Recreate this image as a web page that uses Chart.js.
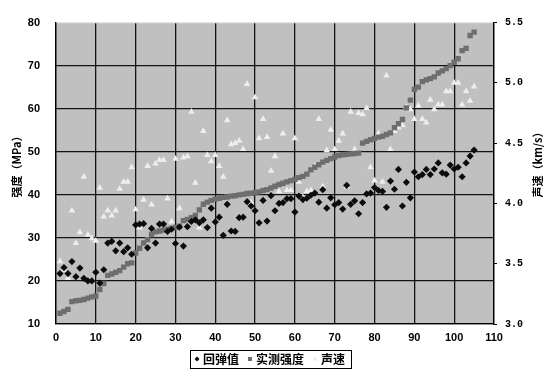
<!DOCTYPE html>
<html>
<head>
<meta charset="utf-8">
<script src="https://cdn.jsdelivr.net/npm/chart.js@4/dist/chart.umd.min.js"></script>
<style>
  html, body { margin: 0; padding: 0; background: #fff; }
  #wrap { width: 547px; height: 374px; position: relative; }
</style>
</head>
<body>
<div id="wrap"><canvas id="chart"></canvas></div>
<script>
// tick labels
const xTicks = [0, 10, 20, 30, 40, 50, 60, 70, 80, 90, 100, 110];
const strengthTicks = [10, 20, 30, 40, 50, 60, 70, 80];
const velocityTicks = [3.0, 3.5, 4.0, 4.5, 5.0, 5.5];

const seriesNames = ['回弹值', '实测强度', '声速'];

// specimen 1..105
const rebound = [
  21.7, 23.1, 21.7, 24.5, 21.0, 23.0, 20.6, 20.0, 20.0, 22.0,
  19.5, 22.6, 28.8, 29.2, 27.0, 28.8, 26.8, 27.7, 26.2, 33.0,
  33.2, 33.3, 27.7, 32.2, 28.8, 33.2, 33.2, 31.5, 32.0, 28.7,
  32.5, 28.1, 32.6, 33.8, 34.2, 33.5, 34.2, 32.4, 36.9, 33.7,
  34.8, 30.6, 37.8, 31.6, 31.5, 34.7, 34.8, 38.4, 37.4, 36.3,
  33.5, 38.7, 33.9, 39.8, 36.3, 38.0, 38.2, 39.1, 39.1, 36.0,
  39.7, 38.9, 39.2, 39.9, 40.4, 38.3, 41.2, 36.9, 39.3, 37.7,
  38.2, 36.7, 42.2, 37.8, 38.6, 35.6, 38.2, 40.2, 40.4, 41.7,
  41.0, 40.8, 37.1, 43.2, 41.3, 45.9, 37.4, 42.9, 39.3, 45.3,
  44.2, 44.7, 45.9, 44.7, 46.0, 47.4, 45.1, 44.8, 46.9, 46.0,
  46.4, 44.2, 47.4, 49.0, 50.4
];
const strength = [
  12.5, 12.9, 13.4, 15.2, 15.4, 15.5, 15.7, 16.0, 16.3, 16.5,
  18.0, 19.4, 21.3, 21.6, 22.0, 22.4, 23.2, 24.0, 24.2, 26.5,
  27.6, 28.8, 29.6, 30.8, 31.4, 31.6, 31.8, 32.0, 32.2, 32.4,
  32.7, 34.0, 34.3, 34.7, 35.2, 36.5, 37.8, 38.3, 38.7, 39.0,
  39.2, 39.4, 39.5, 39.7, 39.8, 40.0, 40.1, 40.3, 40.4, 40.5,
  40.7, 41.0, 41.2, 41.6, 42.0, 42.4, 42.7, 43.0, 43.3, 43.6,
  44.0, 44.3, 44.8, 45.8, 46.4, 47.0, 47.6, 48.0, 48.4, 48.8,
  49.1, 49.3, 49.4, 49.5, 49.6, 49.7, 52.0, 52.4, 52.8, 53.1,
  53.4, 53.6, 54.0, 54.4, 55.6, 56.5, 57.5, 60.2, 62.0, 64.5,
  65.0, 66.3, 66.7, 67.0, 67.4, 68.3, 68.8, 69.3, 70.0, 70.8,
  71.6, 73.5, 74.0, 77.0, 77.8
];
const velocity = [
  3.52, 3.45, 3.38, 3.94, 3.67, 3.76, 4.22, 3.74, 3.71, 3.69,
  4.13, 3.89, 3.94, 3.90, 3.94, 4.12, 4.18, 4.18, 4.30, 3.95,
  3.80, 4.03, 4.31, 3.99, 4.33, 4.36, 4.36, 4.04, 3.85, 4.37,
  3.96, 4.38, 4.39, 4.76, 4.17, 3.80, 4.60, 4.40, 4.35, 4.40,
  4.31, 4.22, 4.69, 4.49, 4.50, 4.52, 4.45, 4.99, 4.01, 4.88,
  4.54, 4.70, 4.55, 4.27, 4.39, 4.10, 4.58, 4.11, 4.11, 4.54,
  4.18, 4.05, 4.10, 4.11, 4.31, 4.70, 4.14, 4.44, 4.61, 4.45,
  4.52, 4.58, 4.14, 4.76, 4.45, 4.75, 4.74, 4.79, 4.30, 4.19,
  4.58, 4.18, 5.06, 4.45, 4.60, 4.63, 4.65, 4.80, 4.78, 4.70,
  4.81, 4.70, 4.67, 4.86, 4.78, 4.82, 4.82, 4.93, 4.93, 5.00,
  5.00, 4.82, 4.93, 4.85, 4.97
];

const toPoints = arr => arr.map((v, i) => ({ x: i + 1, y: v }));

const markerColors = ['#0c0c0c', '#6e6e6e', '#eeeeee'];
const markerStyles = ['rectRot', 'rect', 'triangle'];

function drawMarker(ctx, style, x, y, r, color) {
  ctx.fillStyle = color;
  ctx.beginPath();
  if (style === 'rectRot') {
    ctx.moveTo(x, y - r); ctx.lineTo(x + r, y); ctx.lineTo(x, y + r); ctx.lineTo(x - r, y);
  } else if (style === 'rect') {
    ctx.rect(x - r * 0.8, y - r * 0.8, r * 1.6, r * 1.6);
  } else {
    ctx.moveTo(x, y - r); ctx.lineTo(x + r, y + r * 0.7); ctx.lineTo(x - r, y + r * 0.7);
  }
  ctx.closePath();
  ctx.fill();
}

const plotBg = {
  id: 'plotBg',
  beforeDraw(chart) {
    const { ctx, chartArea: a } = chart;
    ctx.save();
    ctx.fillStyle = '#c0c0c0';
    ctx.fillRect(a.left, a.top, a.right - a.left, a.bottom - a.top);
    ctx.restore();
  }
};

// axis titles and the boxed legend
const extras = {
  id: 'extras',
  afterDraw(chart) {
    const { ctx } = chart;
    ctx.save();
    ctx.fillStyle = '#000';
    ctx.font = 'bold 11px "Noto Sans CJK SC"';
    ctx.textAlign = 'center';
    ctx.textBaseline = 'middle';
    ctx.translate(17, 164);
    ctx.rotate(-Math.PI / 2);
    ctx.fillText('强度（MPa）', 0, 0);
    ctx.restore();

    ctx.save();
    ctx.fillStyle = '#000';
    ctx.font = 'bold 11px "Noto Sans CJK SC"';
    ctx.textAlign = 'center';
    ctx.textBaseline = 'middle';
    ctx.translate(538, 162);
    ctx.rotate(-Math.PI / 2);
    ctx.fillText('声速（km/s）', 0, 0);
    ctx.restore();

    // legend
    ctx.save();
    ctx.font = 'bold 12px "Noto Sans CJK SC"';
    ctx.textBaseline = 'middle';
    ctx.textAlign = 'left';
    const cy = 359;
    let x = 195;
    seriesNames.forEach((name, i) => {
      drawMarker(ctx, markerStyles[i], x + 2, cy, 2.5, markerColors[i]);
      ctx.fillStyle = '#000';
      ctx.fillText(name, x + 8, cy);
      x += 8 + ctx.measureText(name).width + 9;
    });
    ctx.strokeStyle = '#000';
    ctx.lineWidth = 1;
    ctx.strokeRect(190.5, 350.5, x - 190 - 3, 18);
    ctx.restore();
  }
};

const tickFont = { family: '"Liberation Sans", Arial, sans-serif', size: 11, weight: 'bold' };

new Chart(document.getElementById('chart'), {
  type: 'scatter',
  data: {
    datasets: [
      {
        label: seriesNames[0],
        data: toPoints(rebound),
        yAxisID: 'y',
        pointStyle: 'rectRot',
        pointRadius: 3.6,
        backgroundColor: markerColors[0],
        borderWidth: 0,
        order: 0
      },
      {
        label: seriesNames[1],
        data: toPoints(strength),
        yAxisID: 'y',
        pointStyle: 'rect',
        pointRadius: 3.8,
        backgroundColor: markerColors[1],
        borderWidth: 0,
        order: 1
      },
      {
        label: seriesNames[2],
        data: toPoints(velocity),
        yAxisID: 'y2',
        pointStyle: 'triangle',
        pointRadius: 3.8,
        backgroundColor: markerColors[2],
        borderWidth: 0,
        order: 2
      }
    ]
  },
  options: {
    responsive: true,
    maintainAspectRatio: false,
    animation: false,
    layout: { padding: { top: 12, bottom: 30, left: 0, right: 0 } },
    plugins: {
      legend: { display: false },
      tooltip: { enabled: false }
    },
    scales: {
      x: {
        type: 'linear',
        min: 0,
        max: 110,
        afterBuildTicks: s => { s.ticks = xTicks.map(v => ({ value: v })); },
        afterFit: s => { s.height = 20; },
        grid: { color: '#141414', lineWidth: 1.3, drawTicks: false },
        border: { color: '#000', width: 1.3 },
        ticks: { font: tickFont, color: '#000', padding: 7, maxRotation: 0 }
      },
      y: {
        position: 'left',
        min: 10,
        max: 80,
        afterBuildTicks: s => { s.ticks = strengthTicks.map(v => ({ value: v })); },
        afterFit: s => { s.width = 56; },
        grid: {
          color: c => (c.tick && c.tick.value === 80 ? '#e4e4e4' : '#141414'),
          lineWidth: 1.3,
          drawTicks: false
        },
        border: { color: '#000', width: 1.3 },
        ticks: { font: tickFont, color: '#000', padding: 16 }
      },
      y2: {
        position: 'right',
        min: 3.0,
        max: 5.5,
        afterBuildTicks: s => { s.ticks = velocityTicks.map(v => ({ value: v })); },
        afterFit: s => { s.width = 53; },
        grid: { drawOnChartArea: false, color: '#000', tickLength: 3 },
        border: { color: '#000', width: 1.3 },
        ticks: {
          font: { family: '"Liberation Mono", monospace', size: 10, weight: 'bold' },
          color: '#000',
          padding: 8,
          callback: v => Number(v).toFixed(1)
        }
      }
    }
  },
  plugins: [plotBg, extras]
});
</script>
</body>
</html>
